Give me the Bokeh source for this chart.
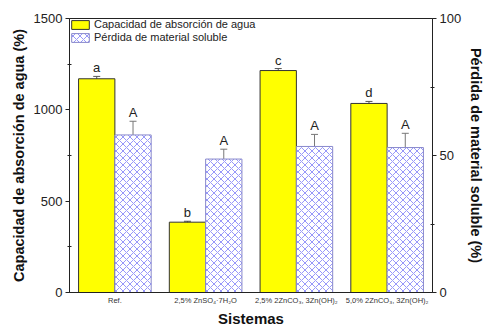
from bokeh.plotting import figure
from bokeh.models import (ColumnDataSource, FactorRange, Range1d, LinearAxis, FixedTicker,
                          Whisker, TeeHead, Legend, LegendItem)
from bokeh.transform import dodge
from bokeh.core.properties import value
from bokeh.embed import file_html
from bokeh.resources import INLINE

categories = ["Ref.", "2,5% ZnSO\u2084\u00b77H\u2082O", "2,5% 2ZnCO\u2083, 3Zn(OH)\u2082", "5,0% 2ZnCO\u2083, 3Zn(OH)\u2082"]
absorcion = [1170, 385, 1215, 1035]
absorcion_err = [13, 5, 11, 11]
absorcion_letters = ["a", "b", "c", "d"]
perdida = [57.5, 48.7, 53.3, 52.9]
perdida_err = [5.0, 3.6, 4.4, 5.2]
perdida_letters = ["A", "A", "A", "A"]

FONT = "Liberation Sans"

src_a = ColumnDataSource(dict(cat=categories, val=absorcion,
                              lo=[v - e for v, e in zip(absorcion, absorcion_err)],
                              hi=[v + e for v, e in zip(absorcion, absorcion_err)],
                              lab=absorcion_letters))
src_p = ColumnDataSource(dict(cat=categories, val=perdida,
                              lo=[v - e for v, e in zip(perdida, perdida_err)],
                              hi=[v + e for v, e in zip(perdida, perdida_err)],
                              lab=perdida_letters))

p = figure(width=487, height=329, x_range=FactorRange(factors=categories),
           y_range=Range1d(0, 1500), output_backend="svg", toolbar_location=None,
           min_border_left=69, min_border_right=50, min_border_top=18, min_border_bottom=37)
p.extra_y_ranges = {"right": Range1d(0, 100)}
p.x_range.range_padding = 0
p.x_range.factor_padding = 0
p.x_range.group_padding = 0

p.xgrid.visible = False
p.ygrid.visible = False
p.outline_line_color = "#222222"
p.outline_line_width = 1
p.background_fill_color = "white"
p.border_fill_color = "white"

xa = dodge("cat", -0.2, range=p.x_range)
xp = dodge("cat", 0.2, range=p.x_range)

r1 = p.vbar(x=xa, top="val", width=0.4, source=src_a, fill_color="#FFFF00",
            line_color="#333333", line_width=1)
r2 = p.vbar(x=xp, top="val", width=0.4, source=src_p, fill_color="white",
            hatch_pattern="diagonal_cross", hatch_color="#5050f5", hatch_scale=7,
            hatch_weight=0.6, line_color="#8888cc", line_width=1, y_range_name="right")

w1 = Whisker(base=xa, upper="hi", lower="lo", source=src_a, line_color="#555555", line_width=1,
             upper_head=TeeHead(size=7, line_color="#555555"),
             lower_head=TeeHead(size=7, line_color="#555555"))
w2 = Whisker(base=xp, upper="hi", lower="lo", source=src_p, line_color="#777777", line_width=1,
             upper_head=TeeHead(size=7, line_color="#777777"),
             lower_head=TeeHead(size=7, line_color="#777777"), y_range_name="right")
p.add_layout(w1)
p.add_layout(w2)

p.text(x=xa, y="hi", text="lab", source=src_a, text_align="center", text_baseline="bottom",
       y_offset=-1, text_font=value(FONT), text_font_size="13px", text_color="#222222")
p.text(x=xp, y="hi", text="lab", source=src_p, text_align="center", text_baseline="bottom",
       y_offset=-1, text_font=value(FONT), text_font_size="13px", text_color="#222222",
       y_range_name="right")

ya = p.yaxis[0]
ya.ticker = FixedTicker(ticks=[0, 500, 1000, 1500], minor_ticks=[250, 750, 1250])
ya.axis_label = "Capacidad de absorción de agua (%)"
ra = LinearAxis(y_range_name="right")
ra.ticker = FixedTicker(ticks=[0, 50, 100], minor_ticks=[25, 75])
ra.axis_label = "Pérdida de material soluble (%)"
p.add_layout(ra, "right")

for ax in (ya, ra):
    ax.axis_line_color = "#222222"
    ax.major_tick_line_color = "#222222"
    ax.minor_tick_line_color = "#222222"
    ax.major_tick_out = 4
    ax.major_tick_in = 0
    ax.minor_tick_out = 2
    ax.minor_tick_in = 2
    ax.major_label_text_font = FONT
    ax.major_label_text_font_size = "13px"
    ax.major_label_text_color = "#222222"
    ax.major_label_standoff = 3
    ax.axis_label_text_font = FONT
    ax.axis_label_text_font_size = "14.5px"
    ax.axis_label_text_font_style = "bold"
    ax.axis_label_text_color = "#111111"
    ax.axis_label_standoff = 4

xaxis = p.xaxis[0]
xaxis.axis_label = "Sistemas"
xaxis.axis_line_color = "#222222"
xaxis.major_tick_line_color = None
xaxis.minor_tick_line_color = None
xaxis.major_tick_out = 0
xaxis.major_tick_in = 0
xaxis.major_label_text_font = FONT
xaxis.major_label_text_font_size = "7.5px"
xaxis.major_label_text_color = "#333333"
xaxis.major_label_standoff = 3
xaxis.axis_label_text_font = FONT
xaxis.axis_label_text_font_size = "15px"
xaxis.axis_label_text_font_style = "bold"
xaxis.axis_label_text_color = "#111111"
xaxis.axis_label_standoff = 2

legend = Legend(items=[LegendItem(label="Capacidad de absorción de agua", renderers=[r1]),
                       LegendItem(label="Pérdida de material soluble", renderers=[r2])],
                location="top_left", margin=0, padding=3, spacing=1,
                glyph_width=22, glyph_height=11, label_text_font=FONT,
                label_text_font_size="11px", label_text_color="#222222",
                label_standoff=3, label_height=11,
                border_line_color=None, background_fill_alpha=0)
p.add_layout(legend)

open("out.html", "w").write(file_html(p, INLINE))
